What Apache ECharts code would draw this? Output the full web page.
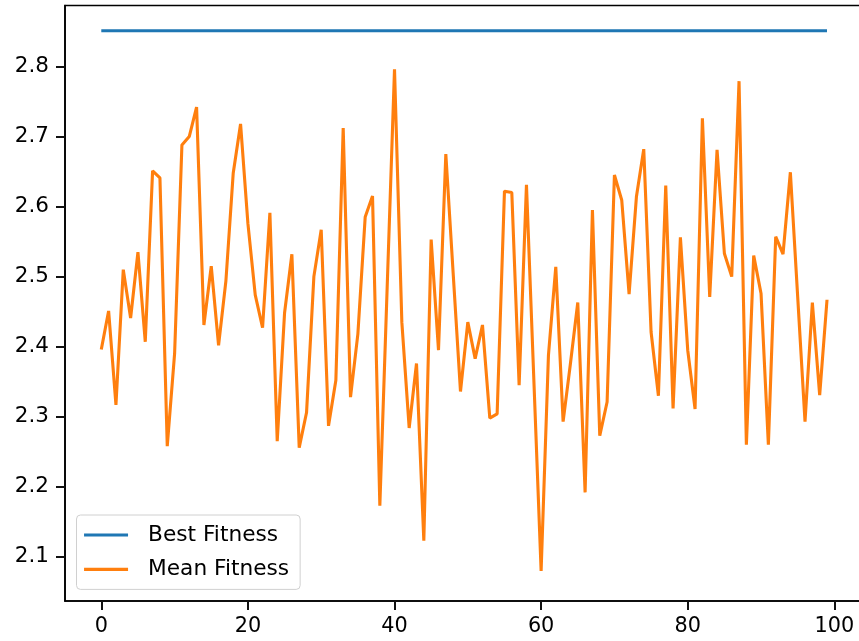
<!DOCTYPE html>
<html>
<head>
<meta charset="utf-8">
<title>Fitness</title>
<script src="https://cdn.jsdelivr.net/npm/echarts@6/dist/echarts.min.js"></script>
<style>
  html, body { margin: 0; padding: 0; background: #fff; }
  #chart { width: 859px; height: 641px; }
</style>
</head>
<body>
<div id="chart"></div>
<script>
var generations = []
for (var g = 0; g < 100; g++) generations.push(g)

var bestFitness = [
  2.851, 2.851, 2.851, 2.851, 2.851, 2.851, 2.851, 2.851, 2.851, 2.851,
  2.851, 2.851, 2.851, 2.851, 2.851, 2.851, 2.851, 2.851, 2.851, 2.851,
  2.851, 2.851, 2.851, 2.851, 2.851, 2.851, 2.851, 2.851, 2.851, 2.851,
  2.851, 2.851, 2.851, 2.851, 2.851, 2.851, 2.851, 2.851, 2.851, 2.851,
  2.851, 2.851, 2.851, 2.851, 2.851, 2.851, 2.851, 2.851, 2.851, 2.851,
  2.851, 2.851, 2.851, 2.851, 2.851, 2.851, 2.851, 2.851, 2.851, 2.851,
  2.851, 2.851, 2.851, 2.851, 2.851, 2.851, 2.851, 2.851, 2.851, 2.851,
  2.851, 2.851, 2.851, 2.851, 2.851, 2.851, 2.851, 2.851, 2.851, 2.851,
  2.851, 2.851, 2.851, 2.851, 2.851, 2.851, 2.851, 2.851, 2.851, 2.851,
  2.851, 2.851, 2.851, 2.851, 2.851, 2.851, 2.851, 2.851, 2.851, 2.851
]

var meanFitness = [
  2.396, 2.451, 2.317, 2.510, 2.441, 2.535, 2.407, 2.651, 2.641, 2.258,
  2.390, 2.688, 2.700, 2.742, 2.431, 2.515, 2.402, 2.494, 2.648, 2.718,
  2.576, 2.474, 2.427, 2.591, 2.265, 2.448, 2.532, 2.256, 2.306, 2.500,
  2.567, 2.287, 2.352, 2.712, 2.328, 2.418, 2.585, 2.615, 2.173, 2.485,
  2.796, 2.435, 2.284, 2.376, 2.123, 2.553, 2.395, 2.675, 2.505, 2.336,
  2.435, 2.383, 2.431, 2.298, 2.304, 2.622, 2.620, 2.345, 2.631, 2.355,
  2.080, 2.388, 2.514, 2.293, 2.376, 2.463, 2.192, 2.595, 2.273, 2.321,
  2.645, 2.609, 2.475, 2.614, 2.682, 2.421, 2.330, 2.630, 2.312, 2.556,
  2.395, 2.311, 2.726, 2.471, 2.681, 2.533, 2.500, 2.779, 2.260, 2.530,
  2.476, 2.260, 2.557, 2.532, 2.649, 2.471, 2.293, 2.463, 2.331, 2.467
]

var xTicks = [0, 20, 40, 60, 80, 100]
var yTicks = [2.1, 2.2, 2.3, 2.4, 2.5, 2.6, 2.7, 2.8]

function pairs(xs, ys) {
  var out = []
  for (var i = 0; i < xs.length; i++) out.push([xs[i], ys[i]])
  return out
}

var font = 'DejaVu Sans'
var chart = echarts.init(document.getElementById('chart'), null, { renderer: 'canvas' })

// spines sit on the grid edges, not on zero
var axisLine = { show: true, onZero: false, lineStyle: { color: '#000', width: 1.6 } }
var tickStyle = { color: '#111', width: 2 }

var option = {
  animation: false,
  backgroundColor: '#fff',
  grid: {
    left: 65, top: 5.5, right: -4.3, bottom: 40,
    containLabel: false,
    outerBoundsMode: 'none',
    show: true, borderColor: '#000', borderWidth: 1.6
  },
  legend: {
    orient: 'vertical',
    left: 76.5, top: 515,
    padding: [8, 11, 8, 6],
    itemWidth: 44, itemHeight: 14, itemGap: 10.4,
    itemStyle: { opacity: 0 },
    lineStyle: { width: 3.1 },
    backgroundColor: 'rgba(255,255,255,0.8)',
    borderColor: '#d0d0d0', borderWidth: 1, borderRadius: 4,
    textStyle: { fontFamily: font, fontSize: 21.7, color: '#000', lineHeight: 24, padding: [0, 0, 0, 15] },
    data: ['Best Fitness', 'Mean Fitness']
  },
  xAxis: {
    type: 'value',
    min: -4.95, max: 103.95,
    splitLine: { show: false },
    axisLine: axisLine,
    axisTick: { show: true, length: 9, customValues: xTicks, lineStyle: tickStyle },
    axisLabel: { customValues: xTicks, margin: 15, fontFamily: font, fontSize: 20.8, color: '#000' }
  },
  yAxis: {
    type: 'value',
    min: 2.037, max: 2.887,
    splitLine: { show: false },
    axisLine: axisLine,
    axisTick: { show: true, length: 9, customValues: yTicks, lineStyle: tickStyle },
    axisLabel: {
      customValues: yTicks, margin: 16, fontFamily: font, fontSize: 21.5, color: '#000',
      formatter: function (v) { return v.toFixed(1) }
    }
  },
  series: [
    {
      name: 'Best Fitness', type: 'line', symbol: 'none',
      color: '#1f77b4', lineStyle: { width: 3.1, color: '#1f77b4' },
      data: pairs(generations, bestFitness)
    },
    {
      name: 'Mean Fitness', type: 'line', symbol: 'none',
      color: '#ff7f0e', lineStyle: { width: 3.1, color: '#ff7f0e' },
      data: pairs(generations, meanFitness)
    }
  ]
}
chart.setOption(option)
</script>
</body>
</html>
